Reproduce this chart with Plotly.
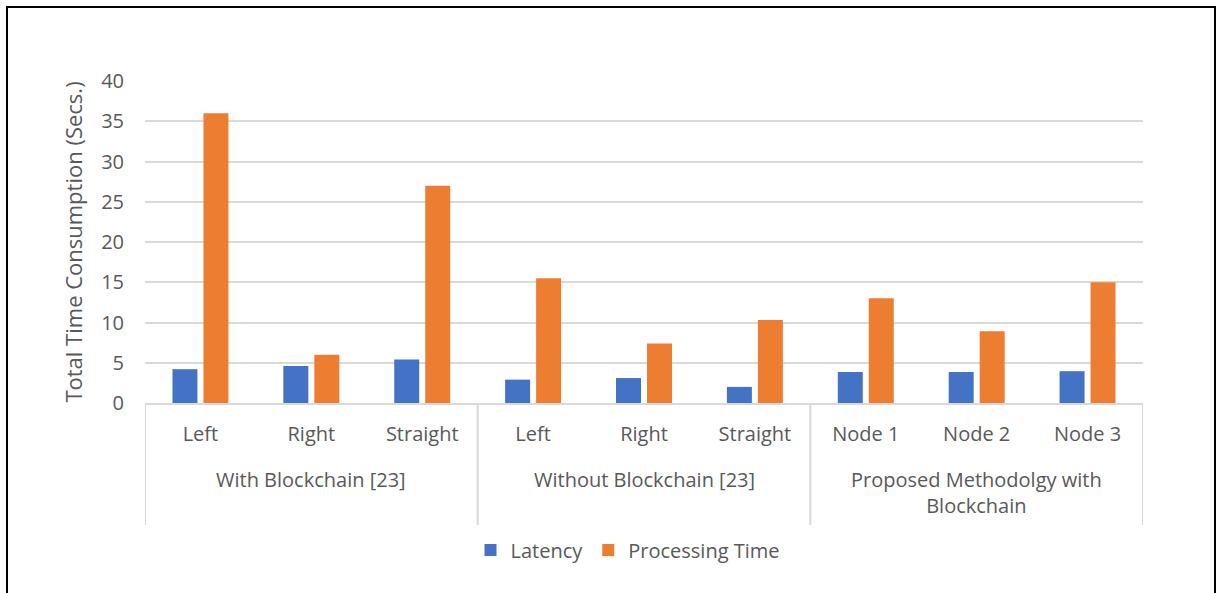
import plotly.graph_objects as go

# Sub-categories and their scenario groups
subcats = ["Left", "Right", "Straight", "Left", "Right", "Straight",
           "Node 1", "Node 2", "Node 3"]
group_names = ["With Blockchain [23]", "Without Blockchain [23]",
               "Proposed Methodolgy with<br>Blockchain"]
group_sizes = [3, 3, 3]

latency = [4.2, 4.6, 5.4, 2.9, 3.1, 2.0, 3.85, 3.85, 3.95]
processing = [36, 6, 27, 15.5, 7.4, 10.3, 13, 8.9, 15]

BLUE = "#4472C4"
ORANGE = "#ED7D31"
TEXT = "#595959"
GRID = "#D9D9D9"
FONT = "Open Sans"

W, H = 1219, 593
L, R, T, B = 145, 76, 81, 190

pos = list(range(len(subcats)))

fig = go.Figure()
fig.add_trace(go.Bar(x=pos, y=latency, name="Latency",
                     marker=dict(color=BLUE, line=dict(width=0))))
fig.add_trace(go.Bar(x=pos, y=processing, name="Processing Time",
                     marker=dict(color=ORANGE, line=dict(width=0))))


def px_x(p):
    return (p - L) / (W - L - R)


def px_y(p):
    return (H - B - p) / (H - T - B)


fig.update_layout(
    width=W, height=H,
    margin=dict(l=L, r=R, t=T, b=B, autoexpand=False),
    paper_bgcolor="white", plot_bgcolor="white",
    font=dict(family=FONT, size=20, color=TEXT),
    barmode="group", bargap=0.441, bargroupgap=0.194,
    showlegend=True,
    legend=dict(orientation="h", x=px_x(628), y=px_y(550),
                xanchor="center", yanchor="middle",
                font=dict(size=20, color=TEXT), itemwidth=30,
                tracegroupgap=0, bgcolor="rgba(0,0,0,0)"),
    xaxis=dict(range=[-0.5, len(subcats) - 0.5], tickmode="array",
               tickvals=pos, ticktext=subcats, showgrid=False,
               zeroline=False, showline=True, linecolor=GRID, linewidth=2,
               ticks="", ticklabelstandoff=12,
               tickfont=dict(size=20, color=TEXT), fixedrange=True),
    yaxis=dict(range=[0, 40], dtick=5, showgrid=True, gridcolor=GRID,
               gridwidth=1.5, zeroline=False, showline=False,
               ticks="", ticklabelstandoff=20,
               tickfont=dict(size=20, color=TEXT),
               title=dict(text="Total Time Consumption (Secs.)",
                          font=dict(size=22, color=TEXT), standoff=12)),
)

# Group labels and the divider lines between groups
start = 0
bounds = [-0.5]
for name, n in zip(group_names, group_sizes):
    centre = start + (n - 1) / 2
    fig.add_annotation(x=centre, xref="x", y=px_y(464), yref="paper",
                       yanchor="top", text=name, showarrow=False,
                       font=dict(size=20, color=TEXT))
    start += n
    bounds.append(start - 0.5)

for b in bounds:
    fig.add_shape(type="line", xref="x", yref="paper",
                  x0=b, x1=b, y0=px_y(403), y1=px_y(525),
                  line=dict(color=GRID, width=2))

# Chart border (bottom edge runs past the page)
fig.add_shape(type="rect", xref="paper", yref="paper",
              x0=px_x(7), x1=px_x(1215), y0=px_y(600), y1=px_y(7),
              line=dict(color="black", width=2), fillcolor="rgba(0,0,0,0)",
              layer="above")

fig.write_html("out.html")
